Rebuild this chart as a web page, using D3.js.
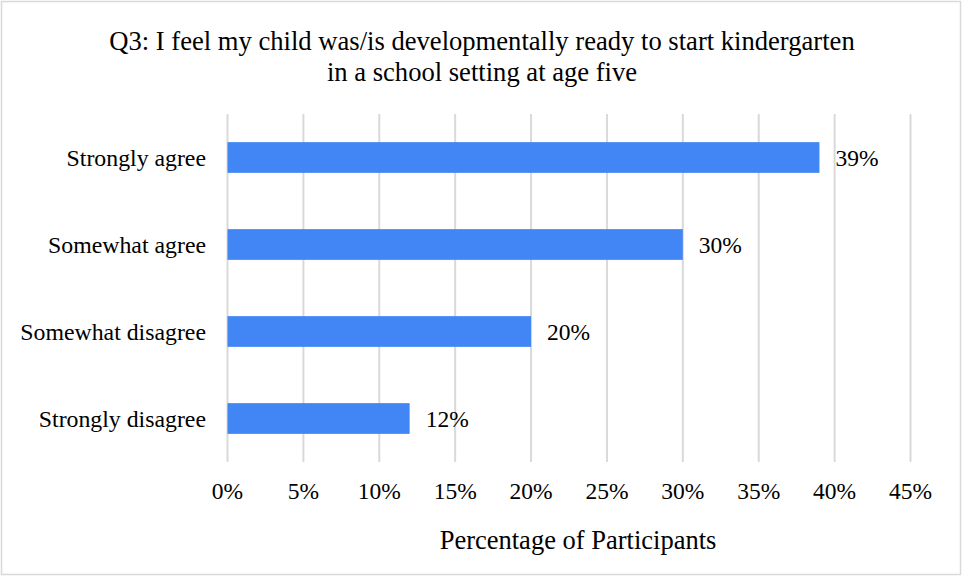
<!DOCTYPE html>
<html>
<head>
<meta charset="utf-8">
<script src="https://cdn.jsdelivr.net/npm/d3@7"></script>
<style>
  body { margin: 0; background: #fff; }
  text { font-family: "Liberation Serif", "Times New Roman", serif; fill: #000; }
</style>
</head>
<body>
<div id="chart"></div>
<script>
var categories = ["Strongly agree", "Somewhat agree", "Somewhat disagree", "Strongly disagree"];
var values = [39, 30, 20, 12];
var ticks = [0, 5, 10, 15, 20, 25, 30, 35, 40, 45];
var titleLines = ["Q3: I feel my child was/is developmentally ready to start kindergarten",
                  "in a school setting at age five"];
var xTitle = "Percentage of Participants";

var width = 962, height = 576;
var svg = d3.select("#chart").append("svg")
  .attr("width", width).attr("height", height);

// outer frame
svg.append("rect")
  .attr("x", 1.5).attr("y", 1.5)
  .attr("width", width - 3).attr("height", height - 3)
  .attr("fill", "#fff").attr("stroke", "#d9d9d9").attr("stroke-width", 1.5);

var x = d3.scaleLinear().domain([0, 45]).range([227.5, 910.5]);
var y = d3.scaleBand().domain(categories).range([114, 462]).paddingInner(0.647).paddingOuter(0.3235);

// gridlines
svg.selectAll(".grid")
  .data(ticks)
  .enter().append("line")
  .attr("x1", function (d) { return x(d); })
  .attr("x2", function (d) { return x(d); })
  .attr("y1", 114).attr("y2", 462)
  .attr("stroke", "#d9d9d9").attr("stroke-width", 2);

// bars
svg.selectAll(".bar")
  .data(values)
  .enter().append("rect")
  .attr("x", x(0))
  .attr("y", function (d, i) { return y(categories[i]); })
  .attr("width", function (d) { return x(d) - x(0); })
  .attr("height", y.bandwidth())
  .attr("fill", "#4285f4");

// value labels
svg.selectAll(".val")
  .data(values)
  .enter().append("text")
  .attr("x", function (d) { return x(d) + 16; })
  .attr("y", function (d, i) { return y(categories[i]) + y.bandwidth() / 2; })
  .attr("dy", "0.35em")
  .style("font-size", "23.5px")
  .text(function (d) { return d + "%"; });

// category labels
svg.selectAll(".cat")
  .data(categories)
  .enter().append("text")
  .attr("x", 206)
  .attr("y", function (d) { return y(d) + y.bandwidth() / 2; })
  .attr("dy", "0.35em")
  .attr("text-anchor", "end")
  .style("font-size", "23.8px")
  .text(function (d) { return d; });

// tick labels
svg.selectAll(".tick")
  .data(ticks)
  .enter().append("text")
  .attr("x", function (d) { return x(d); })
  .attr("y", 491)
  .attr("dy", "0.35em")
  .attr("text-anchor", "middle")
  .style("font-size", "23.5px")
  .text(function (d) { return d + "%"; });

// title
svg.selectAll(".title")
  .data(titleLines)
  .enter().append("text")
  .attr("x", 482)
  .attr("y", function (d, i) { return 41 + i * 31; })
  .attr("dy", "0.35em")
  .attr("text-anchor", "middle")
  .style("font-size", "26.6px")
  .text(function (d) { return d; });

// x axis title
svg.append("text")
  .attr("x", 578)
  .attr("y", 540)
  .attr("dy", "0.35em")
  .attr("text-anchor", "middle")
  .style("font-size", "26.5px")
  .text(xTitle);
</script>
</body>
</html>
